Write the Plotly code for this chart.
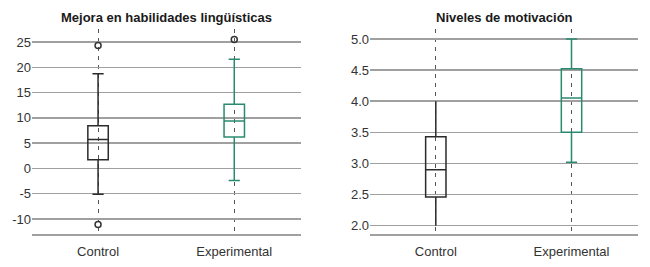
import plotly.graph_objects as go
from plotly.subplots import make_subplots

groups = ["Control", "Experimental"]

# Panel 1: Mejora en habilidades lingüísticas
ling_q1 = [1.7, 6.2]
ling_median = [5.7, 9.4]
ling_q3 = [8.45, 12.7]
ling_low = [-5.1, -2.4]
ling_high = [18.7, 21.6]
ling_out_control = [24.3, -11.1]
ling_out_exp = [25.5]
ling_ticks = [-10, -5, 0, 5, 10, 15, 20, 25]
ling_ticklabels = ["-10", "-5", "0", "5", "10", "15", "20", "25"]

# Panel 2: Niveles de motivación
mot_q1 = [2.46, 3.5]
mot_median = [2.9, 4.05]
mot_q3 = [3.43, 4.52]
mot_low = [2.0, 3.02]
mot_high = [4.0, 5.0]
mot_ticks = [2.0, 2.5, 3.0, 3.5, 4.0, 4.5, 5.0]

titles = ["Mejora en habilidades lingüísticas", "Niveles de motivación"]
colors = ["#2b2b2b", "#2a8a70"]
grid = "#a0a0a0"
FONT = "Liberation Sans"

fig = make_subplots(rows=1, cols=2)

def add_boxes(col, q1, med, q3, lo, hi, caps):
    for i, g in enumerate(groups):
        fig.add_trace(go.Box(
            x=[g], q1=[q1[i]], median=[med[i]], q3=[q3[i]],
            lowerfence=[lo[i]], upperfence=[hi[i]],
            boxpoints=False, width=0.15, whiskerwidth=caps[i],
            line=dict(color=colors[i], width=1.5),
            fillcolor="rgba(0,0,0,0)", showlegend=False, hoverinfo="skip"),
            row=1, col=col)

add_boxes(1, ling_q1, ling_median, ling_q3, ling_low, ling_high, [0.55, 0.55])
add_boxes(2, mot_q1, mot_median, mot_q3, mot_low, mot_high, [0, 0.55])

fig.add_trace(go.Scatter(
    x=[groups[0]] * len(ling_out_control), y=ling_out_control, mode="markers",
    marker=dict(symbol="circle-open", size=6, color="#333333", line=dict(width=1.5)),
    showlegend=False, hoverinfo="skip"), row=1, col=1)
fig.add_trace(go.Scatter(
    x=[groups[1]] * len(ling_out_exp), y=ling_out_exp, mode="markers",
    marker=dict(symbol="circle-open", size=6, color="#333333", line=dict(width=1.5)),
    showlegend=False, hoverinfo="skip"), row=1, col=1)

xcommon = dict(
    type="category", categoryorder="array", categoryarray=groups,
    range=[-0.485, 1.49], showgrid=True, gridcolor="#555555", gridwidth=1,
    griddash="4px,5px", showline=True, linecolor=grid, linewidth=1.5,
    ticks="", ticklen=0, automargin=False, ticklabelstandoff=5,
    tickfont=dict(family=FONT, size=13, color="#333333"),
    zeroline=False, fixedrange=True,
)
ycommon = dict(
    showgrid=True, gridcolor=grid, gridwidth=1.5, showline=False, ticks="",
    ticklen=0, automargin=False, zeroline=False, fixedrange=True,
    tickfont=dict(family=FONT, size=13, color="#333333"),
)

fig.update_xaxes(**xcommon)
fig.update_layout(
    xaxis=dict(domain=[32 / 650, 301 / 650]),
    xaxis2=dict(domain=[370 / 650, 638 / 650]),
    yaxis=dict(range=[-12.96, 27.57], tickvals=ling_ticks, ticktext=ling_ticklabels, **ycommon),
    yaxis2=dict(range=[1.866, 5.16], tickvals=mot_ticks, tickformat=".1f", **ycommon),
)

annotations = []
for i, (t, xr) in enumerate(zip(titles, ["x domain", "x2 domain"])):
    annotations.append(dict(
        text="<b>%s</b>" % t, xref=xr, x=0.5, yref="paper", y=1 + 11 / 205,
        yanchor="middle", xanchor="center", showarrow=False,
        font=dict(family=FONT, size=13, color="#1a1a1a")))

fig.update_layout(
    width=650, height=267,
    margin=dict(l=0, r=0, t=29, b=33, autoexpand=False),
    paper_bgcolor="white", plot_bgcolor="white",
    boxmode="overlay", showlegend=False, hovermode=False,
    annotations=annotations,
)

fig.write_html(
    "out.html",
    config={"displayModeBar": False, "staticPlot": True},
    post_script="document.body.style.margin='0';document.body.style.overflow='hidden';",
)
